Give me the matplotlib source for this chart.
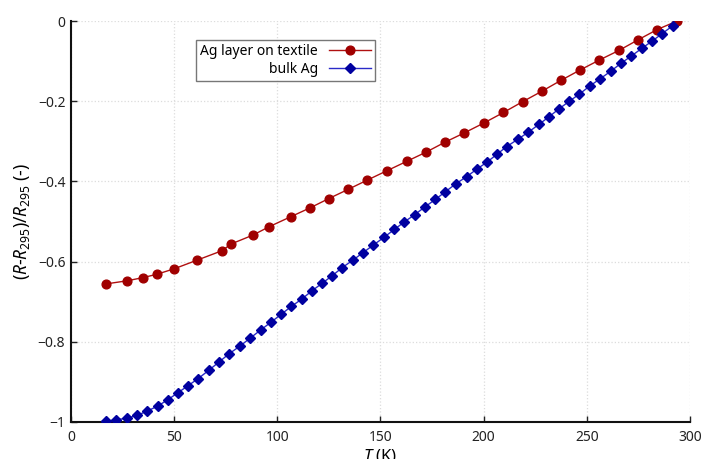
import matplotlib
matplotlib.use('Agg')
import matplotlib.pyplot as plt
from matplotlib.ticker import FuncFormatter

plt.rcParams['font.family'] = ['Noto Sans', 'DejaVu Sans']
plt.rcParams['mathtext.fontset'] = 'custom'
plt.rcParams['mathtext.rm'] = 'Noto Sans'
plt.rcParams['mathtext.it'] = 'Noto Sans:italic'

# Ag layer on textile
t_layer = [16.8, 27.3, 35.0, 41.5, 50.1, 60.9, 73.2, 77.7, 88.2, 96.1, 106.6,
           115.9, 124.9, 134.3, 143.5, 153.3, 162.7, 172.1, 181.3, 190.6, 200.2,
           209.6, 218.9, 228.2, 237.4, 246.7, 256.1, 265.6, 274.7, 284.1, 293.6]
r_layer = [-0.656, -0.648, -0.640, -0.632, -0.618, -0.597, -0.573, -0.556, -0.534,
           -0.513, -0.488, -0.466, -0.443, -0.420, -0.397, -0.373, -0.350, -0.327,
           -0.302, -0.279, -0.254, -0.228, -0.201, -0.175, -0.148, -0.122, -0.097,
           -0.073, -0.047, -0.021, 0.0]

# bulk Ag
t_bulk = [16.8, 21.8, 27.0, 32.1, 37.0, 42.0, 46.9, 51.7, 56.7, 61.7, 66.9, 71.7,
          76.7, 81.9, 86.9, 91.9, 96.8, 101.8, 106.8, 111.8, 116.8, 121.8, 126.7,
          131.5, 136.5, 141.5, 146.5, 151.6, 156.7, 161.6, 166.6, 171.7, 176.6,
          181.4, 186.5, 191.8, 196.8, 201.6, 206.5, 211.2, 216.5, 221.7, 226.7,
          231.6, 236.5, 241.5, 246.4, 251.4, 256.4, 261.6, 266.6, 271.6, 276.6,
          281.6, 286.5, 291.5]
r_bulk = [-0.999, -0.995, -0.991, -0.984, -0.973, -0.961, -0.945, -0.928, -0.910,
          -0.892, -0.871, -0.851, -0.830, -0.811, -0.791, -0.771, -0.752, -0.732,
          -0.712, -0.694, -0.673, -0.654, -0.635, -0.615, -0.597, -0.578, -0.559,
          -0.540, -0.520, -0.501, -0.483, -0.463, -0.445, -0.426, -0.406, -0.388,
          -0.369, -0.352, -0.332, -0.313, -0.295, -0.277, -0.258, -0.239, -0.219,
          -0.200, -0.182, -0.162, -0.144, -0.125, -0.105, -0.087, -0.068, -0.050,
          -0.031, -0.012]

x_ticks = [0, 50, 100, 150, 200, 250, 300]
y_ticks = [0, -0.2, -0.4, -0.6, -0.8, -1]

fig = plt.figure(figsize=(7.02, 4.59), dpi=100)
ax = fig.add_axes([0.101, 0.081, 0.882, 0.873])

ax.plot(t_layer, r_layer, color='#b01010', lw=1.0, marker='o', ms=6.3,
        mfc='#a00000', mec='#a00000', label='Ag layer on textile', zorder=3)
ax.plot(t_bulk, r_bulk, color='#2a2ac8', lw=1.0, marker='D', ms=4.7,
        mfc='#0000a0', mec='#0000a0', label='bulk Ag', zorder=3)

ax.set_xlim(0, 300)
ax.set_ylim(-1, 0)
ax.set_xticks(x_ticks)
ax.set_yticks(y_ticks)


def fmt_y(v, pos):
    if abs(v) < 1e-9:
        return '0'
    s = f'{v:g}'
    return s.replace('-', '\u2212')


ax.yaxis.set_major_formatter(FuncFormatter(fmt_y))
ax.tick_params(direction='in', length=4, width=1, labelsize=10,
               colors='#222222')
ax.tick_params(axis='x', pad=6)
ax.tick_params(axis='y', pad=4)

ax.grid(True, linestyle=':', color='#dcdcdc', lw=0.9)
for side in ['top', 'right']:
    ax.spines[side].set_visible(False)
for side in ['left', 'bottom']:
    ax.spines[side].set_linewidth(1.5)
    ax.spines[side].set_color('#111111')

ax.set_ylabel(r'$(R$-$R_{295})/R_{295}$ (-)', fontsize=12.5, labelpad=4)
ax.set_xlabel(r'$T$ (K)', fontsize=12, labelpad=1)

leg = ax.legend(loc='upper left', bbox_to_anchor=(0.202, 0.953), markerfirst=False,
                fontsize=10, frameon=True, fancybox=False, borderpad=0.3,
                handlelength=3.0, labelspacing=0.2, borderaxespad=0)
leg.get_frame().set_edgecolor('#555555')
leg.get_frame().set_linewidth(1.0)
for t in leg.get_texts():
    t.set_ha('right')
leg._legend_box.align = 'right'

fig.savefig('out.png', dpi=100)
